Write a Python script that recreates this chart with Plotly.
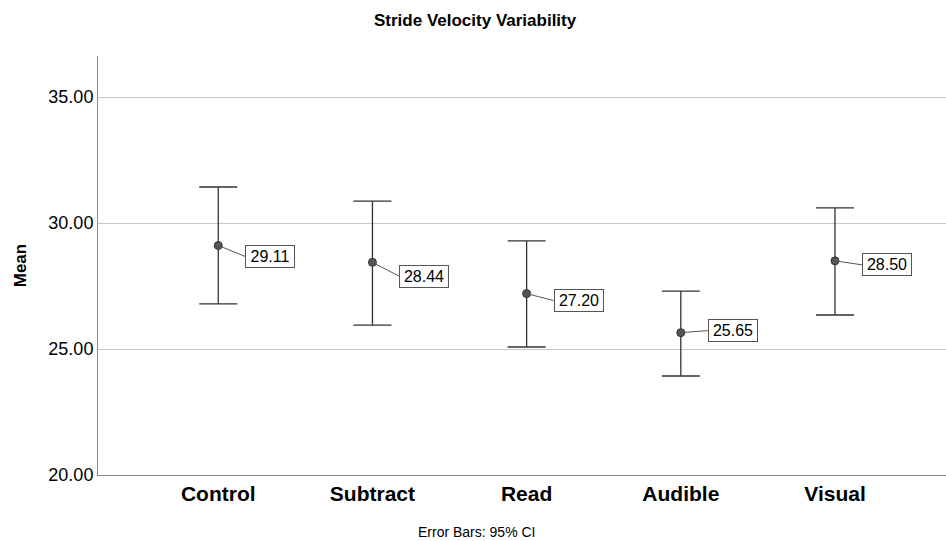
import plotly.graph_objects as go

categories = ["Control", "Subtract", "Read", "Audible", "Visual"]
means = [29.11, 28.44, 27.20, 25.65, 28.50]
ci_upper = [31.43, 30.87, 29.29, 27.30, 30.60]
ci_lower = [26.79, 25.95, 25.08, 23.93, 26.35]
label_dy = [11, 14, 7, -2, 4]
tick_vals = [20, 25, 30, 35]

err_plus = [u - m for u, m in zip(ci_upper, means)]
err_minus = [m - l for m, l in zip(means, ci_lower)]
xs = list(range(len(categories)))

FONT = "Liberation Sans, Arial"

fig = go.Figure()
fig.add_trace(go.Scatter(
    x=xs, y=means, mode="markers",
    marker=dict(size=8, color="#555555", line=dict(color="#333333", width=1)),
    error_y=dict(type="data", symmetric=False, array=err_plus, arrayminus=err_minus,
                 color="#333333", thickness=1.3, width=19),
    showlegend=False, hoverinfo="skip",
))

for x, m, dy in zip(xs, means, label_dy):
    fig.add_annotation(
        x=x, y=m, xref="x", yref="y", text=f"{m:.2f}",
        showarrow=True, arrowhead=0, arrowwidth=1, arrowcolor="#555555",
        ax=27, ay=dy, xanchor="left", yanchor="middle",
        width=44, height=17,
        bgcolor="white", bordercolor="#555555", borderwidth=1, borderpad=2,
        font=dict(family=FONT, size=16, color="black"),
    )

fig.add_annotation(
    text="<b>Stride Velocity Variability</b>", xref="paper", yref="paper",
    x=0.4446, y=1, yshift=36, yanchor="middle", showarrow=False,
    font=dict(family=FONT, size=17, color="black"),
)
fig.add_annotation(
    text="Error Bars: 95% CI", xref="paper", yref="paper",
    x=0.4458, y=0, yshift=-57, yanchor="middle", showarrow=False,
    font=dict(family=FONT, size=14, color="black"),
)

fig.update_layout(
    width=946, height=541,
    margin=dict(l=98, r=0, t=56, b=66),
    paper_bgcolor="white", plot_bgcolor="white",
    font=dict(family=FONT, color="black"),
    xaxis=dict(
        range=[-0.78, 4.72], tickvals=xs, ticktext=categories,
        showgrid=False, zeroline=False, showline=True, linecolor="#888888",
        linewidth=1, ticks="", tickfont=dict(size=21, family=FONT, weight="bold"),
        fixedrange=True,
    ),
    yaxis=dict(
        range=[20, 36.63], tickvals=tick_vals, tickformat=".2f",
        showgrid=True, gridcolor="#c8c8c8", gridwidth=1, zeroline=False,
        showline=True, linecolor="#888888", linewidth=1, ticks="",
        tickfont=dict(size=18, family=FONT),
        title=dict(text="Mean", font=dict(size=17, family=FONT, weight="bold"), standoff=17),
        fixedrange=True,
    ),
)

fig.write_html("out.html")
